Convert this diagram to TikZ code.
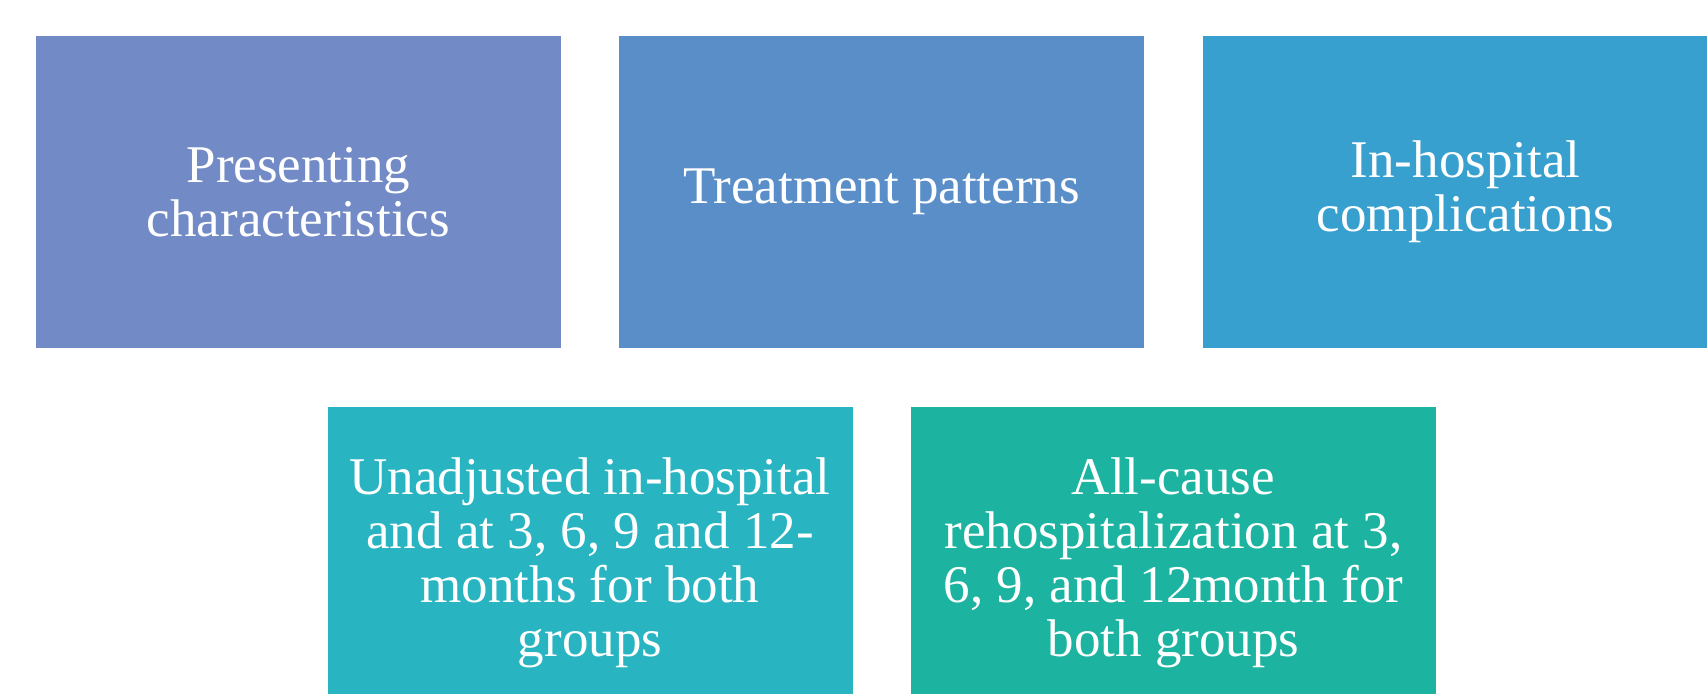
\documentclass[tikz,border=0pt]{standalone}
\usepackage{fontspec}
\setmainfont{Liberation Serif}

\definecolor{presentblue}{HTML}{728BC7}
\definecolor{treatblue}{HTML}{5A8EC8}
\definecolor{complblue}{HTML}{38A0CE}
\definecolor{mortcyan}{HTML}{29B4C2}
\definecolor{rehospteal}{HTML}{1CB4A0}

\begin{document}
\begin{tikzpicture}[x=0.5pt,y=-0.5pt,
  panel/.style={minimum width=262.5pt,minimum height=156pt,inner sep=0pt,
    text=white,align=center,font=\fontsize{26.5}{27}\selectfont}]
  \useasboundingbox (0,0) rectangle (1707,694);
  \clip (0,0) rectangle (1707,694);

  % top row
  \node[panel,fill=presentblue] (presenting) at (298.5,192) {Presenting\\characteristics};
  \node[panel,fill=treatblue] (treatment) at (881.5,192) {Treatment patterns};
  \node[panel,fill=complblue] (complications) at (1465.5,192) {In-hospital\\complications};

  % bottom row, runs off the lower edge
  \node[panel,fill=mortcyan] (mortality) at (590,563)
    {Unadjusted in-hospital\\and at 3, 6, 9 and 12-\\months for both\\groups};
  \node[panel,fill=rehospteal] (rehosp) at (1173.5,563)
    {All-cause\\rehospitalization at 3,\\6, 9, and 12month for\\both groups};
\end{tikzpicture}
\end{document}
